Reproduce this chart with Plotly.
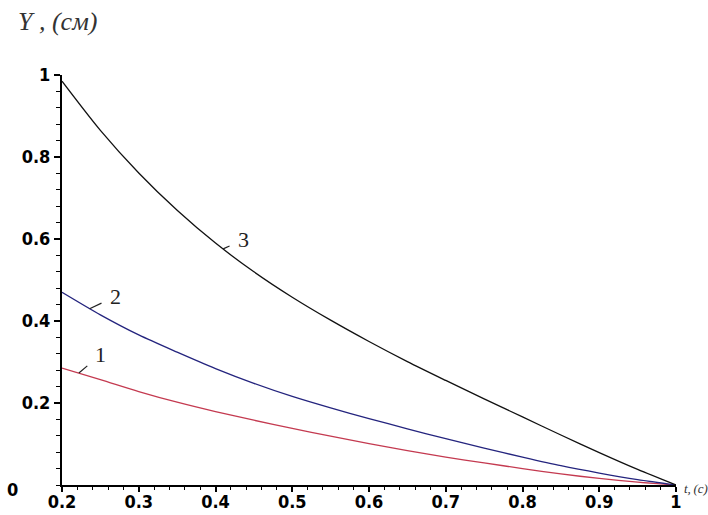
import plotly.graph_objects as go

t = [0.2, 0.25, 0.3, 0.35, 0.4, 0.45, 0.5, 0.55, 0.6, 0.65, 0.7, 0.75, 0.8, 0.85, 0.9, 0.95, 1.0]

y1 = [0.285, 0.257, 0.228, 0.202, 0.179, 0.158, 0.138, 0.119, 0.101, 0.084, 0.068,
      0.054, 0.040, 0.027, 0.016, 0.007, 0.0]
y2 = [0.470, 0.415, 0.366, 0.324, 0.284, 0.248, 0.216, 0.188, 0.162, 0.137, 0.113,
      0.090, 0.068, 0.047, 0.029, 0.013, 0.0]
y3 = [0.985, 0.865, 0.761, 0.670, 0.590, 0.520, 0.458, 0.402, 0.350, 0.301, 0.255,
      0.210, 0.166, 0.122, 0.079, 0.038, 0.0]

names = ["1", "2", "3"]
colors = ["#c43a50", "#24247e", "#111111"]

# (t on curve, Y on curve, t of label, Y of label)
label_pts = [(0.222, 0.273, 0.250, 0.318), (0.236, 0.430, 0.270, 0.460), (0.410, 0.576, 0.437, 0.598)]

x_ticks = [0.2, 0.3, 0.4, 0.5, 0.6, 0.7, 0.8, 0.9, 1.0]
x_ticktext = ["<b>0.2</b>", "<b>0.3</b>", "<b>0.4</b>", "<b>0.5</b>", "<b>0.6</b>",
              "<b>0.7</b>", "<b>0.8</b>", "<b>0.9</b>", "<b>1</b>"]
y_ticks = [0.2, 0.4, 0.6, 0.8, 1.0]
y_ticktext = ["<b>0.2</b>", "<b>0.4</b>", "<b>0.6</b>", "<b>0.8</b>", "<b>1</b>"]

fig = go.Figure()
for ys, c, n in zip([y1, y2, y3], colors, names):
    fig.add_trace(go.Scatter(x=t, y=ys, mode="lines",
                             line=dict(color=c, width=1.3, shape="spline", smoothing=0.8),
                             name=n, showlegend=False, hoverinfo="skip"))

for (cx, cy, tx, ty), n in zip(label_pts, names):
    fig.add_annotation(x=cx, y=cy, ax=tx, ay=ty, axref="x", ayref="y", xref="x", yref="y",
                       text=n, showarrow=True, arrowhead=0, arrowwidth=1.2, arrowcolor="#222",
                       font=dict(family="Liberation Serif", size=22, color="#222"),
                       standoff=0, startstandoff=8)

tickfont = dict(family="DejaVu Sans Condensed, DejaVu Sans", size=18, color="black")

fig.update_layout(
    width=708, height=515,
    margin=dict(l=62, r=32, t=75, b=30, autoexpand=False),
    paper_bgcolor="white", plot_bgcolor="white",
    xaxis=dict(range=[0.2, 1.0], tickvals=x_ticks, ticktext=x_ticktext, automargin=False,
               showgrid=False, zeroline=False, showline=True, linecolor="black", linewidth=2,
               ticks="outside", ticklen=5, tickwidth=1.5, tickcolor="black",
               ticklabelstandoff=-6,
               tickfont=tickfont,
               minor=dict(dtick=0.02, tick0=0.2, ticks="outside", ticklen=3, tickcolor="black", tickwidth=1)),
    yaxis=dict(range=[0, 1.0], tickvals=y_ticks, ticktext=y_ticktext, automargin=False,
               showgrid=False, zeroline=False, showline=True, linecolor="black", linewidth=2,
               ticks="outside", ticklen=6, tickwidth=1.5, tickcolor="black",
               tickfont=tickfont,
               minor=dict(dtick=0.04, tick0=0, ticks="outside", ticklen=4, tickcolor="black", tickwidth=1)),
)

fig.add_annotation(xref="paper", yref="paper", x=-0.068, y=0.0, xanchor="right", yanchor="middle",
                   yshift=-4, text="<b>0</b>", showarrow=False, font=tickfont)
fig.add_annotation(xref="paper", yref="paper", x=-0.075, y=1.0, yshift=54, xanchor="left", yanchor="middle",
                   text="<i>Y , (см)</i>", showarrow=False,
                   font=dict(family="Liberation Serif", size=26, color="#333"))
fig.add_annotation(xref="paper", yref="paper", x=1.0, xshift=7, y=0.0, yshift=-3, xanchor="left", yanchor="middle",
                   text="<i>t,\u2009(c)</i>", showarrow=False, borderpad=0,
                   font=dict(family="Liberation Serif", size=13, color="#333"))

fig.write_html("out.html", config={"displayModeBar": False},
               post_script="document.body.style.margin='0';document.body.style.overflow='hidden';")
